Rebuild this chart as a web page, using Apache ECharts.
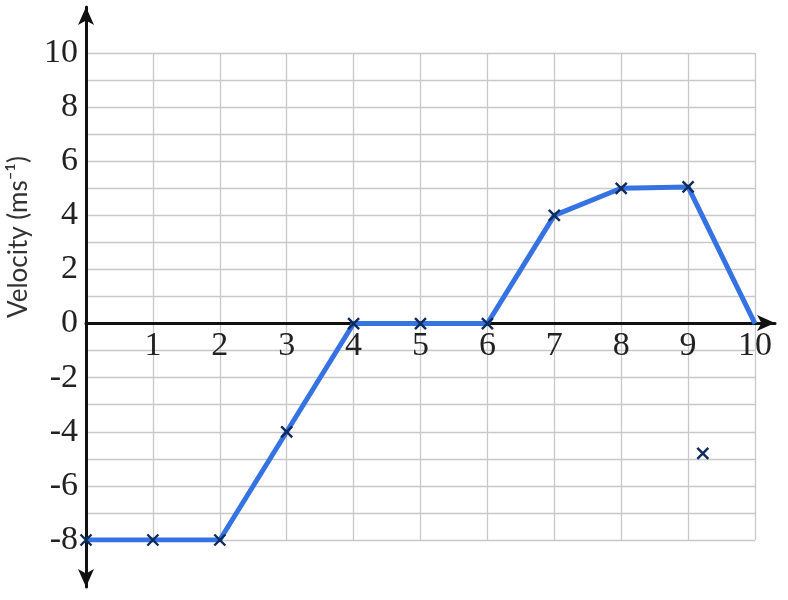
<!DOCTYPE html>
<html><head><meta charset="utf-8">
<script src="https://cdn.jsdelivr.net/npm/echarts@6/dist/echarts.min.js"></script>
<style>html,body{margin:0;padding:0;background:#fff}#c{width:788px;height:600px}</style>
</head><body><div id="c"></div>
<script>
const times = [0, 1, 2, 3, 4, 5, 6, 7, 8, 9, 10];
const velocities = [-8, -8, -8, -4, 0, 0, 0, 4, 5, 5.05, 0];
const markedPoints = [true, true, true, true, true, true, true, true, true, true, false];
const strayMarker = [[9.22, -4.8]];
const yAxisTitle = 'Velocity (ms⁻¹)';

const lineData = times.map((t, i) => markedPoints[i] ? [t, velocities[i]] : {value: [t, velocities[i]], symbol: 'none'});
const cross = 'path://M0,0L10,10M10,0L0,10';
const serif = 'Liberation Serif';

const chart = echarts.init(document.getElementById('c'));
chart.setOption({
  animation: false,
  backgroundColor: '#fff',
  grid: [
    {left: 86, right: 33, top: 53, bottom: 60, outerBoundsMode: 'none', containLabel: false},
    {left: 86, right: 13, top: 7, bottom: 13, outerBoundsMode: 'none', containLabel: false}
  ],
  xAxis: [
    {gridIndex: 0, type: 'value', min: 0, max: 10, interval: 1, position: 'bottom', offset: -217,
     axisLine: {show: false, onZero: false}, axisTick: {show: false},
     axisLabel: {fontFamily: serif, fontSize: 34, color: '#222', margin: 6,
       formatter: v => v === 0 ? '' : String(v)},
     splitLine: {lineStyle: {color: '#c8c8c8', width: 1.3}}},
    {gridIndex: 1, type: 'value', min: 0, max: 10.30,
     axisLine: {show: true, onZero: true, symbol: ['none', 'arrow'], symbolSize: [12, 18],
       lineStyle: {color: '#111', width: 3}},
     axisTick: {show: false}, axisLabel: {show: false}, splitLine: {show: false}}
  ],
  yAxis: [
    {gridIndex: 0, type: 'value', min: -8, max: 10, interval: 1,
     axisLine: {show: false, onZero: false}, axisTick: {show: false},
     axisLabel: {fontFamily: serif, fontSize: 34, color: '#222', margin: 8,
       formatter: v => (Math.abs(v) % 2 === 0) ? String(v) : ''},
     splitLine: {lineStyle: {color: '#c8c8c8', width: 1.3}}},
    {gridIndex: 1, type: 'value', min: -9.757, max: 11.68,
     axisLine: {show: true, onZero: true, symbol: ['arrow', 'arrow'], symbolSize: [12, 18],
       lineStyle: {color: '#111', width: 3}},
     axisTick: {show: false}, axisLabel: {show: false}, splitLine: {show: false}}
  ],
  graphic: [
    {type: 'text', x: 19, y: 237, rotation: Math.PI / 2,
     style: {text: yAxisTitle, fontFamily: 'Lato', fontSize: 26, fill: '#333',
       align: 'center', verticalAlign: 'middle'}}
  ],
  series: [
    {type: 'line', xAxisIndex: 0, yAxisIndex: 0, data: lineData,
     lineStyle: {color: '#3573e3', width: 5},
     symbol: cross, symbolSize: 11,
     itemStyle: {color: '#0f2a5c', borderColor: '#0f2a5c', borderWidth: 2.4},
     z: 5},
    {type: 'scatter', xAxisIndex: 0, yAxisIndex: 0, data: strayMarker,
     symbol: cross, symbolSize: 11,
     itemStyle: {color: '#0f2a5c', borderColor: '#0f2a5c', borderWidth: 2.4, opacity: 1},
     z: 5}
  ]
});
</script></body></html>
